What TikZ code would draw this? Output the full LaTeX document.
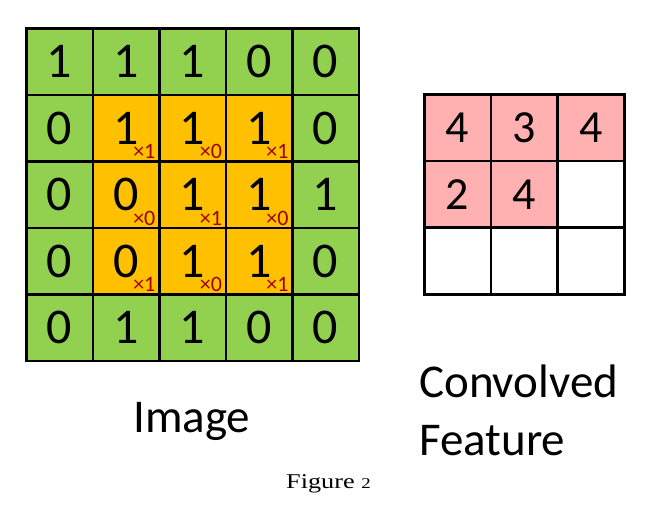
\documentclass[tikz,border=0pt]{standalone}
\usepackage{fontspec}
\setmainfont{Carlito}
\newfontfamily\captionfont{Liberation Serif}
\usetikzlibrary{positioning,calc}
\definecolor{convGreenFill}{HTML}{92D050}
\definecolor{convOrangeFill}{HTML}{FFC000}
\definecolor{convPinkFill}{HTML}{FFB1B1}
\definecolor{convRedText}{HTML}{A00000}

\begin{document}
\begin{tikzpicture}[x=1pt, y=-1pt,
  cell/.style={draw=black, line width=2.6pt, minimum size=66.5pt,
    inner sep=0pt, anchor=north west},
  imgdigit/.style={font=\fontsize{50}{50}\selectfont},
  featdigit/.style={font=\fontsize{46}{46}\selectfont},
  weight/.style={inner sep=0pt, text=convRedText,
    font=\fontsize{22}{22}\selectfont},
  label/.style={inner sep=0pt, anchor=base west,
    font=\fontsize{47}{47}\selectfont}]

\useasboundingbox (0,0) rectangle (665,514);

%% --- DATA ---
% Each entry: row / column / pixel value
\def\imgdata{%
  0/0/1, 0/1/1, 0/2/1, 0/3/0, 0/4/0,
  1/0/0, 1/1/1, 1/2/1, 1/3/1, 1/4/0,
  2/0/0, 2/1/0, 2/2/1, 2/3/1, 2/4/1,
  3/0/0, 3/1/0, 3/2/1, 3/3/1, 3/4/0,
  4/0/0, 4/1/1, 4/2/1, 4/3/0, 4/4/0%
}
% kernel weights over rows 1-3, columns 1-3
\def\kerneldata{%
  1/1/1, 1/2/0, 1/3/1,
  2/1/0, 2/2/1, 2/3/0,
  3/1/1, 3/2/0, 3/3/1%
}
% Each entry: row / column / feature value
\def\featdata{0/0/4, 0/1/3, 0/2/4, 1/0/2, 1/1/4}
\def\xImg{25}
\def\yImg{27}
\def\xFeat{423}
\def\yFeat{93}
\def\cellW{66.5}

% --- IMAGE GRID ---
\foreach \r/\c/\v in \imgdata {
  \pgfmathsetmacro\fillc{(\r>0 && \r<4 && \c>0 && \c<4) ? 1 : 0}
  \ifnum\fillc=1
    \node[cell, imgdigit, fill=convOrangeFill] (img-\r-\c)
      at (\xImg + \c*\cellW, \yImg + \r*\cellW) {\v};
  \else
    \node[cell, imgdigit, fill=convGreenFill] (img-\r-\c)
      at (\xImg + \c*\cellW, \yImg + \r*\cellW) {\v};
  \fi
}

% --- KERNEL WEIGHTS ---
\foreach \r/\c/\w in \kerneldata {
  \node[weight, above left=4pt and 5pt of img-\r-\c.south east,
    anchor=base east] (w-\r-\c) {×\w};
}

% --- CONVOLVED FEATURE GRID ---
\foreach \r in {0,1,2} {
  \foreach \c in {0,1,2} {
    \node[cell, featdigit, minimum size=66.7pt] (feat-\r-\c)
      at (\xFeat + \c*66.7, \yFeat + \r*66.7) {};
  }
}
\foreach \r/\c/\v in \featdata {
  \node[cell, featdigit, minimum size=66.7pt, fill=convPinkFill]
    at (feat-\r-\c.north west) {\v};
}

% --- LABELS ---
\node[label] (img-label) at (133, 432) {Image};
\node[label] (feat-label-a) at (419, 397) {Convolved};
\node[label] (feat-label-b) at (419, 455) {Feature};

% --- CAPTION ---
\node[label, font=\captionfont\fontsize{21}{21}\selectfont] (caption)
  at (286, 488) {\scalebox{1.25}[1]{Figure {\fontsize{15}{15}\selectfont 2}}};

\end{tikzpicture}
\end{document}
